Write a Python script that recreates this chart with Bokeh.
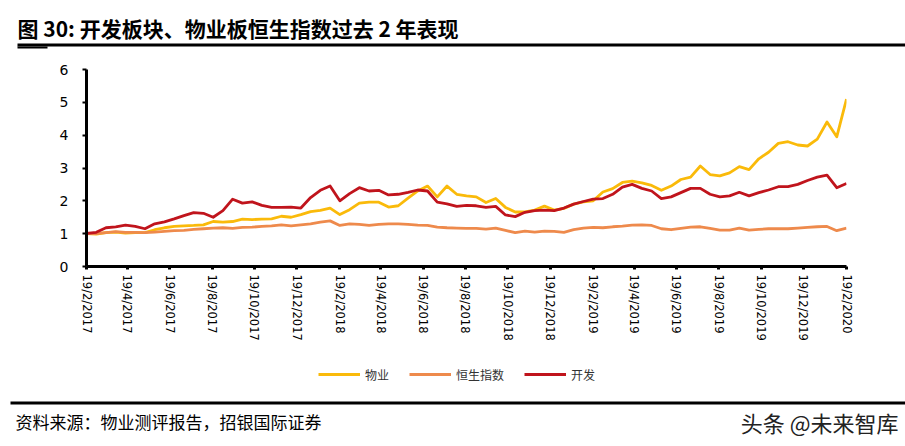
import pandas as pd
from bokeh.plotting import figure
from bokeh.layouts import column
from bokeh.models import Range1d, FixedTicker, Label, BoxAnnotation, Legend, LegendItem
from bokeh.embed import file_html
from bokeh.resources import INLINE

# ---------------- data ----------------
start_date = "2017-02-19"
end_date = "2020-02-19"
n_points = 79

wuye = [1.00, 0.99, 1.03, 1.05, 1.02, 1.03, 1.03, 1.12, 1.18, 1.22,
        1.24, 1.25, 1.27, 1.37, 1.35, 1.37, 1.44, 1.43, 1.44, 1.45,
        1.53, 1.50, 1.58, 1.67, 1.71, 1.78, 1.58, 1.73, 1.93, 1.96,
        1.96, 1.81, 1.85, 2.08, 2.30, 2.45, 2.12, 2.45, 2.20, 2.15,
        2.12, 1.95, 2.07, 1.80, 1.66, 1.66, 1.72, 1.84, 1.72, 1.77,
        1.90, 1.97, 2.00, 2.27, 2.37, 2.56, 2.60, 2.55, 2.47, 2.32,
        2.45, 2.65, 2.72, 3.06, 2.80, 2.76, 2.85, 3.04, 2.95, 3.28,
        3.48, 3.75, 3.80, 3.70, 3.67, 3.88, 4.40, 3.95, 5.10]

hsi = [1.00, 1.00, 1.03, 1.06, 1.04, 1.04, 1.03, 1.05, 1.07, 1.09,
       1.10, 1.13, 1.15, 1.17, 1.18, 1.16, 1.19, 1.20, 1.22, 1.24,
       1.27, 1.24, 1.27, 1.30, 1.35, 1.39, 1.25, 1.30, 1.28, 1.25,
       1.28, 1.30, 1.30, 1.28, 1.26, 1.25, 1.20, 1.18, 1.17, 1.16,
       1.16, 1.14, 1.17, 1.10, 1.03, 1.08, 1.05, 1.08, 1.07, 1.04,
       1.12, 1.17, 1.19, 1.18, 1.21, 1.23, 1.26, 1.27, 1.25, 1.15,
       1.12, 1.16, 1.20, 1.21, 1.16, 1.11, 1.11, 1.17, 1.11, 1.13,
       1.15, 1.15, 1.15, 1.17, 1.19, 1.21, 1.22, 1.09, 1.17]

kaifa = [1.01, 1.04, 1.18, 1.21, 1.26, 1.22, 1.15, 1.30, 1.36, 1.45,
         1.55, 1.64, 1.62, 1.50, 1.70, 2.05, 1.93, 1.97, 1.86, 1.80,
         1.80, 1.81, 1.78, 2.10, 2.32, 2.45, 2.00, 2.22, 2.40, 2.30,
         2.32, 2.18, 2.20, 2.26, 2.33, 2.30, 1.96, 1.91, 1.83, 1.86,
         1.85, 1.80, 1.83, 1.57, 1.52, 1.65, 1.70, 1.72, 1.70, 1.78,
         1.90, 1.98, 2.05, 2.07, 2.20, 2.42, 2.50, 2.38, 2.30, 2.07,
         2.12, 2.25, 2.38, 2.38, 2.20, 2.12, 2.15, 2.26, 2.15, 2.25,
         2.33, 2.43, 2.43, 2.50, 2.62, 2.72, 2.78, 2.40, 2.53]

series_names = ["物业", "恒生指数", "开发"]
series_colors = ["#FABA0A", "#EE8A4C", "#C0141C"]

tick_labels = ["19/2/2017", "19/4/2017", "19/6/2017", "19/8/2017", "19/10/2017",
               "19/12/2017", "19/2/2018", "19/4/2018", "19/6/2018", "19/8/2018",
               "19/10/2018", "19/12/2018", "19/2/2019", "19/4/2019", "19/6/2019",
               "19/8/2019", "19/10/2019", "19/12/2019", "19/2/2020"]
y_ticks = [0, 1, 2, 3, 4, 5, 6]

title_text = "图 30: 开发板块、物业板恒生指数过去 2 年表现"
source_text = "资料来源：物业测评报告，招银国际证券"
watermark_text = "头条 @未来智库"

# ---------------- build ----------------
t0 = pd.Timestamp(start_date)
dates = pd.date_range(start_date, end_date, periods=n_points)
xs = [(d - t0).total_seconds() / 86400.0 for d in dates]
tick_dates = [pd.Timestamp(int(s.split("/")[2]), int(s.split("/")[1]), int(s.split("/")[0])) for s in tick_labels]
tick_pos = [(d - t0).days for d in tick_dates]

W = 905
TOP_H, MAIN_H, BOT_H = 50, 300, 96
FL, FR, FT, FB = 86, 846, 69, 266   # frame edges in page pixels


def plain_fig(h, y0):
    f = figure(width=W, height=h, output_backend="svg", toolbar_location=None,
               x_range=Range1d(0, W), y_range=Range1d(y0 + h, y0),
               x_axis_type=None, y_axis_type=None,
               min_border=0, min_border_left=0, min_border_right=0,
               min_border_top=0, min_border_bottom=0, frame_align=False)
    f.outline_line_color = None
    f.background_fill_color = "white"
    f.border_fill_color = "white"
    return f


def rule(f, l, r, t, b):
    f.add_layout(BoxAnnotation(left=l, right=r, top=t, bottom=b,
                               fill_color="black", fill_alpha=1, line_color=None))


# --- top (title) ---
top = plain_fig(TOP_H, 0)
top.add_layout(Label(x=17, y=27, text=title_text,
                     text_font="Noto Sans CJK SC", text_font_size="21px", text_font_style="bold",
                     text_baseline="middle", text_align="left", text_color="black"))
rule(top, 17, 905, 43, 46)
rule(top, 17, 47, 46, 48)

# --- main chart ---
p = figure(width=W, height=MAIN_H, output_backend="svg", toolbar_location=None,
           x_range=Range1d(0, tick_pos[-1]), y_range=Range1d(0, 6),
           min_border_left=FL, min_border_right=W - FR,
           min_border_top=FT - TOP_H, min_border_bottom=TOP_H + MAIN_H - FB,
           frame_align=False)
p.outline_line_color = None
p.xgrid.grid_line_color = None
p.ygrid.grid_line_color = None
p.background_fill_color = "white"
p.border_fill_color = "white"

for vals, c in zip([wuye, hsi, kaifa], series_colors):
    p.line(xs, vals, line_color=c, line_width=2.8, line_join="round")

xa = p.xaxis[0]
xa.ticker = FixedTicker(ticks=tick_pos)
xa.major_label_overrides = {tp: lab for tp, lab in zip(tick_pos, tick_labels)}
xa.major_label_orientation = "vertical"
xa.axis_line_width = 3
xa.axis_line_color = "black"
xa.major_tick_line_width = 3
xa.major_tick_out = 3
xa.major_tick_in = 0
xa.minor_tick_line_color = None
xa.major_label_standoff = 5
xa.major_label_text_font = "DejaVu Sans"
xa.major_label_text_font_size = "11.5px"
xa.major_label_text_color = "black"

ya = p.yaxis[0]
ya.ticker = FixedTicker(ticks=y_ticks)
ya.axis_line_width = 3
ya.axis_line_color = "black"
ya.major_tick_line_width = 2
ya.major_tick_out = 4
ya.major_tick_in = 0
ya.minor_tick_line_color = None
ya.major_label_standoff = 14
ya.major_label_text_font = "DejaVu Sans"
ya.major_label_text_font_size = "14px"
ya.major_label_text_color = "black"

# --- bottom (legend, source, watermark) ---
Y0 = TOP_H + MAIN_H
bot = plain_fig(BOT_H, Y0)
# the series again, in a panel whose range (page pixels 350-446) keeps them out of view;
# they only serve as legend sources
legend_renderers = [bot.line(xs, vals, line_color=c, line_width=2.8)
                    for vals, c in zip([wuye, hsi, kaifa], series_colors)]
legend = Legend(items=[LegendItem(label=n, renderers=[r]) for n, r in zip(series_names, legend_renderers)],
                orientation="horizontal", location=(318, (Y0 + BOT_H) - 383),
                glyph_width=42, glyph_height=18, label_standoff=5, spacing=20,
                padding=0, margin=0, border_line_color=None, background_fill_alpha=0,
                label_text_font="Noto Sans CJK SC", label_text_font_size="12px",
                label_text_color="#333333")
bot.add_layout(legend, "center")
rule(bot, 10, 905, 401, 404)
bot.add_layout(Label(x=15, y=421, text=source_text,
                     text_font="Noto Sans CJK SC", text_font_size="17px",
                     text_baseline="middle", text_align="left", text_color="black"))
bot.add_layout(Label(x=898, y=421, text=watermark_text,
                     text_font="Noto Sans CJK SC", text_font_size="22px",
                     text_baseline="middle", text_align="right", text_color="#222222"))

layout = column(top, p, bot, spacing=0)
open("out.html", "w").write(file_html(layout, INLINE))
